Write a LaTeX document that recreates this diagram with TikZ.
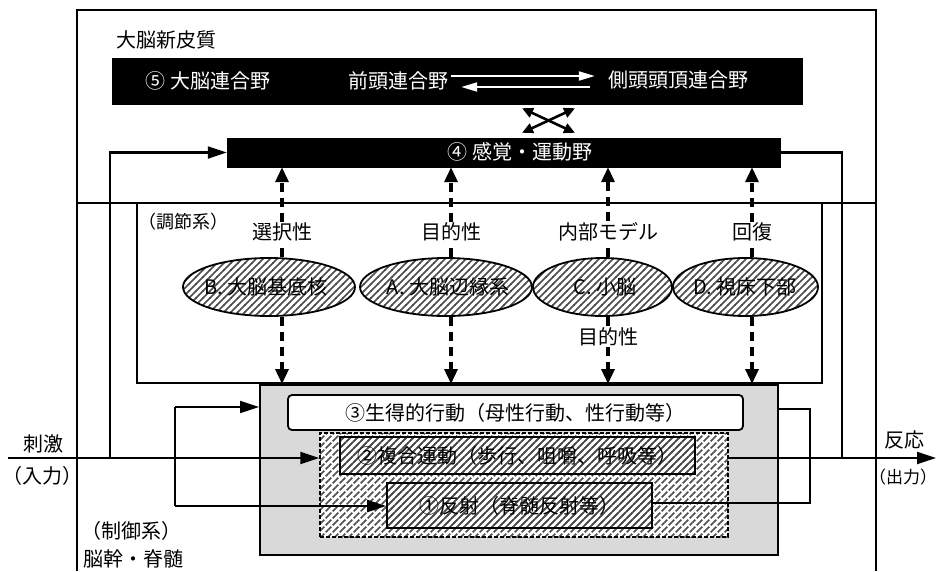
\documentclass[tikz,border=0pt]{standalone}
\usepackage{fontspec}
\setmainfont{Noto Sans CJK JP}
\usetikzlibrary{arrows.meta,patterns,shapes.geometric,calc}
\pgfdeclarepatternformonly{hatchA}{\pgfqpoint{-1pt}{-1pt}}{\pgfqpoint{8pt}{8pt}}{\pgfqpoint{7pt}{7pt}}{%
  \pgfsetlinewidth{1.7pt}%
  \pgfpathmoveto{\pgfqpoint{-0.5pt}{-0.5pt}}%
  \pgfpathlineto{\pgfqpoint{7.5pt}{7.5pt}}%
  \pgfusepath{stroke}}
\begin{document}
\begin{tikzpicture}[x=1pt,y=-1pt,
  font=\fontsize{20}{22}\selectfont,
  frame/.style={line width=1.6pt},
  wire/.style={line width=2.2pt},
  conn/.style={line width=2.2pt,-{Triangle[length=19pt,width=12pt]}},
  dashwire/.style={line width=3.4pt,dash pattern=on 9pt off 6pt},
  dasharrow/.style={dashwire,-{Triangle[length=15pt,width=13pt]}},
  blackbox/.style={fill=black,draw=black,inner sep=0pt},
  wtext/.style={text=white,inner sep=1pt},
  txt/.style={inner sep=1pt},
  oval/.style={ellipse,draw,line width=1.8pt,minimum height=58pt,inner sep=0pt,
     preaction={fill=white},pattern=hatchA,pattern color=black!70},
  plainbox/.style={draw,line width=1.8pt,inner sep=0pt},
]
\useasboundingbox (0,0) rectangle (936,571);

% frames
\draw[frame] (77,571) -- (77,10) -- (876,10) -- (876,571);
\draw[frame] (77,203) -- (876,203);
\node[txt] (cortex) at (166,40) {大脳新皮質};

% cerebral association area
\node[blackbox,minimum width=690pt,minimum height=46pt] (box5) at (457,81) {};
\node[wtext] (a5) at (208,81) {⑤ 大脳連合野};
\node[wtext] (fr) at (398,81) {前頭連合野};
\node[wtext] (tp) at (678,80) {側頭頭頂連合野};
\draw[white,line width=2pt,-{Triangle[length=16pt,width=9pt]}] ($(fr.east)+(2,-5)$) -- ($(tp.west)+(-12,-4)$);
\draw[white,line width=2pt,-{Triangle[length=16pt,width=9pt]}] ($(tp.west)+(-17,7)$) -- ($(fr.east)+(12,6)$);

% sensory-motor area
\node[blackbox,minimum width=553pt,minimum height=29pt] (box4) at (503.5,152.5) {};
\node[wtext] (a4) at (520,152) {④ 感覚・運動野};
\draw[line width=2.6pt,{Triangle[length=11pt,width=10pt]}-{Triangle[length=11pt,width=10pt]}]
  ($(box5.south)+(65,4)$) -- ($(box4.north)+(71.5,-5)$);
\draw[line width=2.6pt,{Triangle[length=11pt,width=10pt]}-{Triangle[length=11pt,width=10pt]}]
  ($(box5.south)+(118,4)$) -- ($(box4.north)+(18.5,-5)$);

% regulation system
\node[plainbox,line width=1.6pt,minimum width=685pt,minimum height=180pt] (reg) at (479.5,293) {};
\node[txt,font=\fontsize{18}{20}\selectfont] (regl) at (183,222) {（調節系）};
\node[txt] (s1) at (282,232) {選択性};
\node[txt] (s2) at (451,232) {目的性};
\node[txt] (s3) at (608,232) {内部モデル};
\node[txt] (s4) at (752,232) {回復};
\node[oval,minimum width=172pt] (e1) at (269,287) {};
\node[oval,minimum width=172pt] (e2) at (446,287) {};
\node[oval,minimum width=139pt] (e3) at (602.5,287) {};
\node[oval,minimum width=145pt] (e4) at (745.5,287) {};
\node[txt] (t1) at (266,287) {B. 大脳基底核};
\node[txt] (t2) at (448,287) {A. 大脳辺縁系};
\node[txt] (t3) at (605,287) {C. 小脳};
\node[txt] (t4) at (745,287) {D. 視床下部};
\node[txt] (c2) at (608,337) {目的性};

% control system boxes
\node[draw,line width=2pt,fill=gray!30,minimum width=518pt,minimum height=170pt,inner sep=0pt] (box3o) at (519,470) {};
\node[draw,line width=1.5pt,dash pattern=on 4pt off 2pt,preaction={fill=white},pattern=hatchA,pattern color=black!70,
  minimum width=408pt,minimum height=104pt,inner sep=0pt] (hatch2) at (524,485) {};
\node[plainbox,fill=white,rounded corners=4pt,minimum width=455pt,minimum height=35pt] (box3l) at (515.5,412.5) {③生得的行動（母性行動、性行動等）};
\node[plainbox,pattern=hatchA,pattern color=black!70,minimum width=355pt,minimum height=37pt] (box2) at (517.5,455.5) {②複合運動（歩行、咀嚼、呼吸等）};
\node[plainbox,pattern=hatchA,pattern color=black!70,minimum width=265pt,minimum height=45pt] (box1) at (519.5,505.5) {①反射（脊髄反射等）};

% vertical dashed connectors
\foreach \s/\e in {s1/e1,s2/e2,s4/e4}{
  \draw[dasharrow] (\s.north) -- (\s.north |- box4.south);
  \draw[dashwire] (\s |- \e.north) -- (\s.south);
  \draw[dasharrow] (\s |- \e.south) -- (\s |- box3o.north);
}
\draw[dasharrow] (s3.north) -- (s3.north |- box4.south);
\draw[dashwire] (s3 |- e3.north) -- (s3.south);
\draw[dashwire] (s3 |- e3.south) -- (c2.north);
\draw[dasharrow] (c2.south) -- (c2 |- box3o.north);

% input / output
\node[txt] (stim) at (43,444) {刺激};
\node[txt] (inp) at (42,476) {（入力）};
\node[txt] (resp) at (904,440) {反応};
\node[txt,font=\fontsize{17}{19}\selectfont] (outp) at (903,477) {（出力）};
\node[txt,anchor=west] (ctl) at (80,531) {（制御系）};
\node[txt,anchor=west] (bs) at (82,559) {脳幹・脊髄};

\coordinate (in) at (8,458);
\coordinate (out) at (936,458);
\coordinate (bLt) at (175,407);
\coordinate (bLb) at (175,506);
\coordinate (bRt) at (810,409);
\coordinate (bRb) at (810,503);
\coordinate (fL) at (110,458);
\coordinate (fR) at (842,458);

\draw[conn] (in) -- (in -| hatch2.west);
\draw[wire] (bLt) -- (bLb);
\draw[conn] (bLt) -- (bLt -| box3o.west);
\draw[conn] (bLb) -- (bLb -| box1.west);
\draw[conn] (hatch2.east |- out) -- (out);
\draw[wire] (box3o.east |- bRt) -- (bRt) -- (bRb) -- (box1.east |- bRb);
\draw[conn] (fL) |- (box4.west);
\draw[wire] (box4.east) -| (fR);
\end{tikzpicture}
\end{document}
